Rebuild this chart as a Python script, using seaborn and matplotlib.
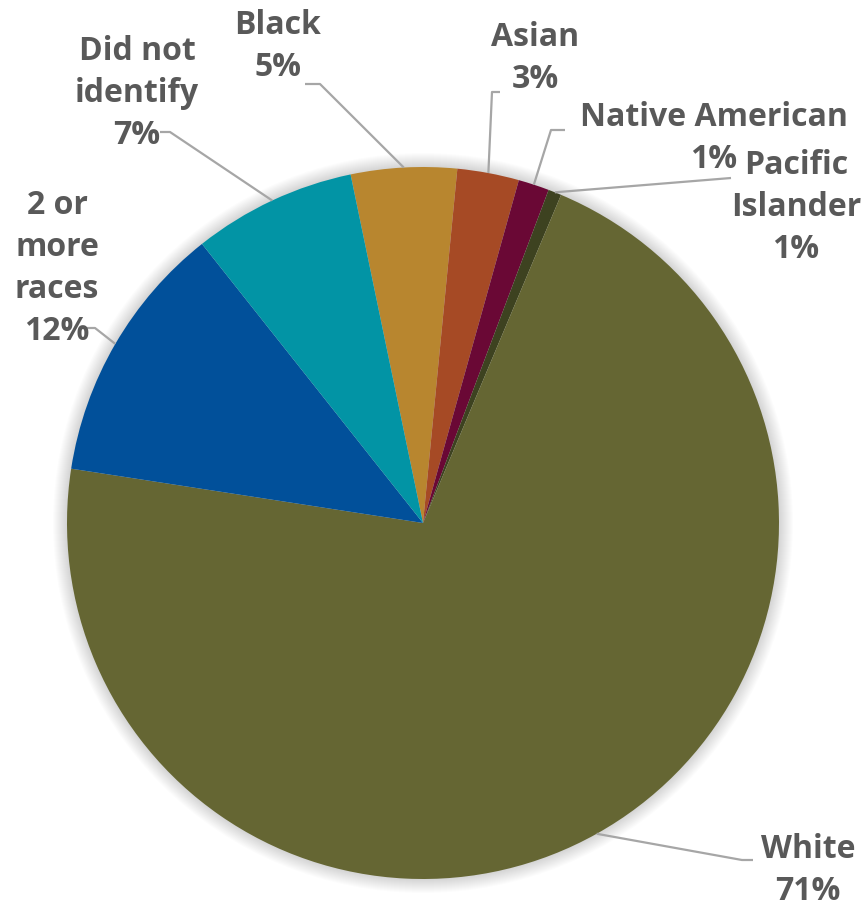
import numpy as np
import matplotlib
matplotlib.use("Agg")
import matplotlib.pyplot as plt
import seaborn as sns
from matplotlib.patches import Circle

# Survey respondents by race (percent)
categories = ["Black", "Asian", "Native American", "Pacific Islander",
              "White", "2 or more races", "Did not identify"]
label_names = ["Black", "Asian", "Native American", "Pacific\nIslander",
               "White", "2 or\nmore\nraces", "Did not\nidentify"]
shares = [4.8, 2.8, 1.4, 0.6, 71.1, 11.9, 7.4]
colors = ["#B8862F", "#A64A25", "#6A0835", "#3D4220",
          "#656633", "#01509A", "#0294A5"]

sns.set_theme(style="white")
plt.rcParams["font.family"] = ["Open Sans", "DejaVu Sans"]

W, H = 863, 906
fig = plt.figure(figsize=(W / 100, H / 100), dpi=100)
ax = fig.add_axes([0, 0, 1, 1])
ax.set_axis_off()

cx, cy, R = 423, H - 523, 356

# soft halo around the pie
for i in range(14):
    ax.add_patch(Circle((cx, cy), R + 14 - i, color="black", alpha=0.010,
                        lw=0, zorder=0))

wedges, _ = ax.pie(shares, colors=colors, startangle=101.74, counterclock=False,
                   center=(cx, cy), radius=R,
                   wedgeprops=dict(linewidth=0), frame=True)

ax.set_xlim(0, W)
ax.set_ylim(0, H)
ax.set_aspect("equal")
ax.set_axis_off()

# label placement (pixel coords from top-left) and leader-line elbows
label_pos = {
    "Black": (278, 46),
    "Asian": (535, 59),
    "Native American": (714, 138),
    "Pacific Islander": (796, 208),
    "White": (808, 870),
    "2 or more races": (57, 269),
    "Did not identify": (137, 93),
}
elbows = {
    "Black": [(305, 84), (320, 84)],
    "Asian": [(500, 92), (492, 92)],
    "Native American": [(565, 130), (551, 130)],
    "Pacific Islander": [(731, 178)],
    "White": [(753, 860), (742, 860)],
    "2 or more races": [(87, 328), (95, 328)],
    "Did not identify": [(160, 132), (170, 132)],
}

text_color = "#595959"
line_color = "#A6A6A6"
line_step = 42
for w, cat, name, v in zip(wedges, categories, label_names, shares):
    x, y = label_pos[cat]
    lines = name.split("\n") + [f"{v:.0f}%"]
    n = len(lines)
    for i, line in enumerate(lines):
        ly = y + (i - (n - 1) / 2) * line_step
        ax.text(x, H - ly, line, ha="center", va="center",
                fontsize=23, fontweight="bold", color=text_color, zorder=5)
    mid = np.deg2rad((w.theta1 + w.theta2) / 2)
    ex, ey = cx + R * np.cos(mid), cy + R * np.sin(mid)
    pts = [(px, H - py) for px, py in elbows[cat]] + [(ex, ey)]
    xs, ys = zip(*pts)
    ax.plot(xs, ys, color=line_color, lw=1.6, zorder=4, solid_capstyle="butt")

fig.savefig("out.png", dpi=100, facecolor="white")
